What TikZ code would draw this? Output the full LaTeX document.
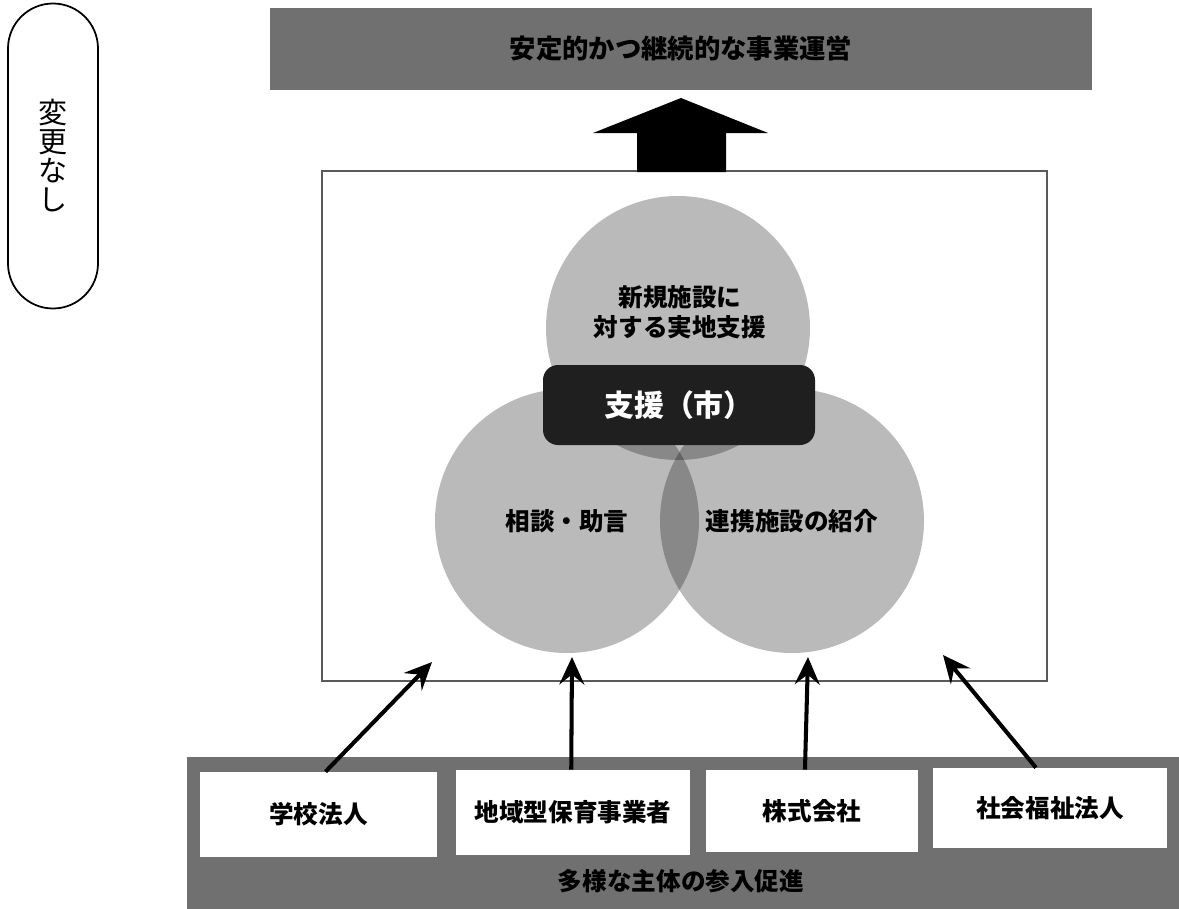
\documentclass[tikz,border=0pt]{standalone}
\usepackage{fontspec}
\setmainfont{Noto Sans CJK JP}
\usepackage{tikz}
\usetikzlibrary{arrows.meta}

\definecolor{bandgray}{HTML}{707070}
\definecolor{framegray}{HTML}{5A5A5A}

\begin{document}
\begin{tikzpicture}[x=0.2mm,y=-0.2mm,
    band/.style={fill=bandgray,inner sep=0pt},
    actor/.style={fill=white,inner sep=0pt,font=\fontsize{14}{16}\selectfont\bfseries},
    blob/.style={circle,fill=black,fill opacity=0.27,text opacity=1,inner sep=0pt,
      minimum size=52.8mm,align=center,font=\fontsize{14}{18}\selectfont\bfseries},
    push/.style={line width=2.3pt,-{Stealth[length=5.5mm,width=5mm,inset=2mm]}}]
  \useasboundingbox
    (0,0)
    rectangle
    (1179,909);
  \node[band,minimum width=164.4mm,minimum height=16.4mm,
    font=\fontsize{15}{17}\selectfont\bfseries] (goal) at (681,49) {安定的かつ継続的な事業運営};
  \node[draw,line width=1pt,rounded corners=9mm,minimum width=18mm,minimum height=61mm,
    align=center,font=\fontsize{16.5}{16.5}\selectfont] (note) at (53,156) {変\\更\\な\\し};
  \node[draw=framegray,line width=0.8pt,minimum width=145mm,minimum height=102mm,
    inner sep=0pt] (frame) at (684.5,426) {};
  \fill
    (637,172) -- (637,133) -- (593,133)
    -- (681,98)
    -- (768,133) -- (726,133) -- (726,172) -- cycle;
  \node[blob] (onsite) at (678,328) {};
  \node[blob] (advice) at (567,521) {相談・助言};
  \node[blob] (link) at (792,521) {連携施設の紹介};
  \node[align=center,font=\fontsize{14}{17}\selectfont\bfseries] (onsitetext) at (680,312)
    {新規施設に\\対する実地支援};
  \node[fill=black!88,rounded corners=3mm,minimum width=54.4mm,minimum height=16mm,
    text=white,font=\fontsize{17}{19}\selectfont\bfseries] (city) at (679,405) {支援（市）};
  \node[band,minimum width=198.4mm,minimum height=30.4mm] (entry) at (683,833) {};
  \node[font=\fontsize{14}{16}\selectfont\bfseries] (entrytext) at (681,881) {多様な主体の参入促進};
  \node[actor,minimum width=47.4mm,minimum height=17mm] (school) at (318.5,814.5) {学校法人};
  \node[actor,minimum width=46.8mm,minimum height=17mm] (local) at (573,812.5) {地域型保育事業者};
  \node[actor,minimum width=42.4mm,minimum height=16.4mm] (company) at (812,811) {株式会社};
  \node[actor,minimum width=46.8mm,minimum height=16mm] (welfare) at (1050,808) {社会福祉法人};
  \coordinate (schoolend) at (432,662);
  \coordinate (localend) at (572,657);
  \coordinate (companyend) at (808,657);
  \coordinate (welfareend) at (943,655);
  \draw[push]
    ([xshift=4]school.north)
    --
    (schoolend);
  \draw[push]
    ([xshift=-1]local.north)
    --
    (localend);
  \draw[push]
    ([xshift=-4]company.north)
    --
    (companyend);
  \draw[push]
    ([xshift=-8]welfare.north)
    --
    (welfareend);
\end{tikzpicture}
\end{document}
